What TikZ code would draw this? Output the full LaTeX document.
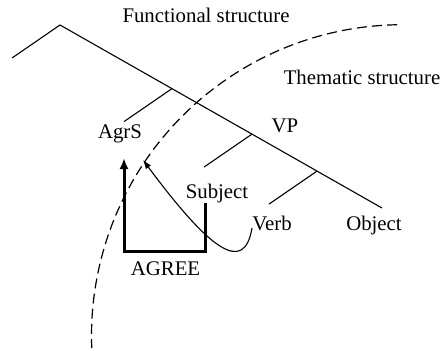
\documentclass[tikz,border=0pt]{standalone}
\usepackage{fontspec}
\setmainfont{Liberation Serif}
\usetikzlibrary{arrows.meta}
\begin{document}
\begin{tikzpicture}[x=0.5pt,y=0.5pt,
  lbl/.style={inner sep=0pt,anchor=base,font=\fontsize{10.4}{12}\selectfont},
  thin/.style={line width=0.55pt},
  thick/.style={line width=1.5pt},
  bound/.style={line width=0.6pt,dash pattern=on 5pt off 2.6pt}]
\useasboundingbox (0,0) rectangle (442,350);
% labels
\node[lbl] (fs) at (206,327.5) {Functional structure};
\node[lbl] (ts) at (362,266) {Thematic structure};
\node[lbl] (vp) at (285,217.5) {VP};
\node[lbl] (agrs) at (120,212) {AgrS};
\node[lbl] (subj) at (217,152) {Subject};
\node[lbl] (verb) at (272,120) {Verb};
\node[lbl] (obj) at (374,120) {Object};
\node[lbl] (agree) at (165.5,74.5) {AGREE};
% tree points
\coordinate (peak) at (60,325);
\coordinate (left) at (12,292);
\coordinate (end) at (382,142);
\coordinate (b1) at (172,261.4);
\coordinate (b1e) at (124,228.4);
\coordinate (b2) at (252,215.9);
\coordinate (b2e) at (204,182.9);
\coordinate (b3) at (317,178.9);
\coordinate (b3e) at (269,145.9);
\draw[thin] (left) -- (peak) -- (end);
\draw[thin] (b1) -- (b1e);
\draw[thin] (b2) -- (b2e);
\draw[thin] (b3) -- (b3e);
% dashed boundary
\coordinate (arcc) at (402.5,14.3);
\draw[bound] ([shift={(91:155.5pt)}]arcc) arc[start angle=91,end angle=182.3,radius=155.5pt];
% AGREE path
\coordinate (s1) at (205,147);
\coordinate (s2) at (205,99);
\coordinate (s3) at (124,99);
\coordinate (atip) at (124,192);
\draw[thick,-{Latex[length=5.5pt,width=4.5pt]}] (s1) -- (s2) -- (s3) -- (atip);
% movement curve
\coordinate (vstart) at (252,122);
\coordinate (mtip) at (143,190);
\draw[thin,-{Latex[length=4.5pt,width=3.2pt]}] (vstart) .. controls (244,75) and (210,100) .. (mtip);
\end{tikzpicture}
\end{document}
